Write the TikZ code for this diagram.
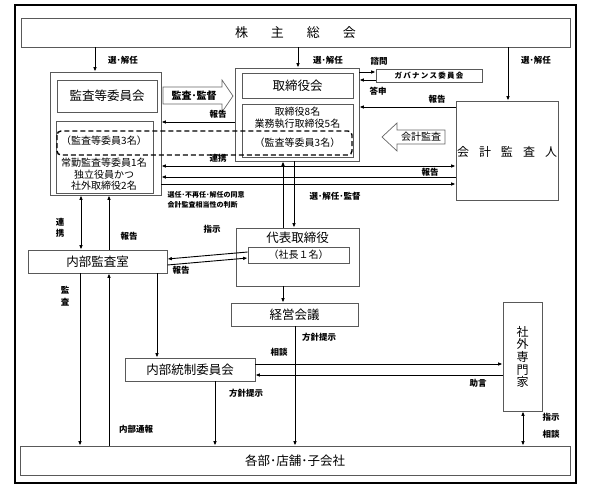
\documentclass[tikz,border=0pt]{standalone}
\usepackage{fontspec}
\setmainfont{Noto Sans CJK JP}
\usetikzlibrary{arrows.meta}
\tikzset{
  box/.style={draw=black!65, line width=0.7pt, inner sep=0pt, fill=white},
  bigtxt/.style={font=\fontsize{12.5}{14}\selectfont, inner sep=0pt},
  midtxt/.style={font=\fontsize{10}{11}\selectfont, inner sep=0pt},
  lbl/.style={font=\bfseries\fontsize{8.5}{9}\selectfont, inner sep=0.5pt},
  tiny/.style={font=\bfseries\fontsize{7}{8}\selectfont, inner sep=0.5pt},
  arr/.style={-{Latex[length=4.5pt,width=3.6pt]}, line width=0.9pt},
  darr/.style={{Latex[length=4.5pt,width=3.6pt]}-{Latex[length=4.5pt,width=3.6pt]}, line width=0.9pt},
  ln/.style={line width=0.9pt},
  hollow/.style={draw=black!60, line width=0.7pt, fill=white}
}
\begin{document}
\begin{tikzpicture}[x=1pt,y=-1pt]
\useasboundingbox (0,0) rectangle (589,495);
% outer frame
\draw[line width=2pt] (15,5) rectangle (576,483);

% main boxes
\node[box, minimum width=549pt, minimum height=29pt] (kabu) at (295.5,32.5) {};
\node[bigtxt, font=\fontsize{13}{14}\selectfont] (kabuT) at (295.5,32.5) {株\hspace{23pt}主\hspace{23pt}総\hspace{23pt}会};

\node[box, minimum width=111pt, minimum height=123pt] (kgrp) at (105.5,133.5) {};
\node[box, minimum width=100pt, minimum height=32pt] (kiin) at (107,96) {};
\node[bigtxt] (kiinT) at (107,96) {監査等委員会};
\node[box, minimum width=97pt, minimum height=72pt] (kmem) at (104.5,157) {};
\node[midtxt] (km1) at (104,140.5) {（監査等委員3名）};
\node[midtxt] (km2) at (104,163) {常勤監査等委員1名};
\node[midtxt] (km3) at (104,174.5) {独立役員かつ};
\node[midtxt] (km4) at (104,185.5) {社外取締役2名};

\node[box, minimum width=124pt, minimum height=93pt] (tgrp) at (297,114.5) {};
\node[box, minimum width=111pt, minimum height=25pt] (tkai) at (297.5,85.5) {};
\node[bigtxt] (tkaiT) at (297.5,85.5) {取締役会};
\node[box, minimum width=111pt, minimum height=53pt] (tmem) at (297.5,130.5) {};
\node[midtxt] (tm1) at (297.5,112) {取締役8名};
\node[midtxt] (tm2) at (297.5,124) {業務執行取締役5名};
\node[midtxt] (tm3) at (297.5,143) {（監査等委員3名）};

% dashed group
\draw[line width=1.4pt, dash pattern=on 5pt off 3pt, rounded corners=4pt] (57,131) rectangle (352,155);

\node[box, minimum width=106pt, minimum height=13pt] (gov) at (429,75.5) {};
\node[tiny, font=\bfseries\fontsize{7.5}{8}\selectfont] (govT) at (429,75.5) {ガ\,バ\,ナ\,ン\,ス\,委\,員\,会};

\node[box, minimum width=102pt, minimum height=99pt] (kaikei) at (507,150.5) {};
\node[bigtxt, font=\fontsize{12}{13}\selectfont] (kaikeiT) at (507,152) {会\hspace{10pt}計\hspace{10pt}監\hspace{10pt}査\hspace{10pt}人};

\node[box, minimum width=123pt, minimum height=58pt] (daihyo) at (297.5,257) {};
\node[bigtxt] (daihyoT) at (297.5,237.5) {代表取締役};
\node[box, minimum width=101pt, minimum height=16pt] (shacho) at (298.5,255) {};
\node[midtxt] (shachoT) at (298.5,255) {（社長１名）};

\node[box, minimum width=139pt, minimum height=23pt] (naibu) at (97.5,261.5) {};
\node[bigtxt] (naibuT) at (97.5,261.5) {内部監査室};

\node[box, minimum width=127pt, minimum height=23pt] (keiei) at (294.5,314.5) {};
\node[bigtxt] (keieiT) at (294.5,314.5) {経営会議};

\node[box, minimum width=130pt, minimum height=23pt] (tosei) at (190,369.5) {};
\node[bigtxt] (toseiT) at (190,369.5) {内部統制委員会};

\node[box, minimum width=39pt, minimum height=109pt] (senmon) at (522.5,356.5) {};
\node[bigtxt, align=center, font=\fontsize{12}{12.6}\selectfont] (senmonT) at (522.5,357) {社\\外\\専\\門\\家};

\node[box, minimum width=550pt, minimum height=29pt] (kakubu) at (295,460.5) {};
\node[bigtxt] (kakubuT) at (295,460.5) {各部･店舗･子会社};

% hollow block arrows
\draw[hollow] (163,87) -- (222,87) -- (222,80) -- (233,96) -- (222,112) -- (222,104) -- (163,104) -- cycle;
\node[lbl, font=\bfseries\fontsize{10}{11}\selectfont] (kansaT) at (194,95.5) {監査･監督};
\draw[hollow] (445,130) -- (397,130) -- (397,123) -- (382,137) -- (397,151) -- (397,144) -- (445,144) -- cycle;
\node[midtxt] (kaikeiA) at (421,137) {会計監査};

% connectors
\draw[arr] (kabu.south -| 95,0) -- (kgrp.north -| 95,0);
\draw[arr] (kabu.south -| 298,0) -- (tgrp.north -| 298,0);
\draw[arr] (kabu.south -| 508,0) -- (kaikei.north -| 508,0);
\draw[arr] (tgrp.east |- 0,72) -- (gov.west |- 0,72);
\draw[arr] (gov.west |- 0,80) -- (tgrp.east |- 0,80);
\draw[arr] (kaikei.west |- 0,107) -- (tgrp.east |- 0,107);
\draw[arr] (tgrp.west |- 0,122) -- (kgrp.east |- 0,122);
\draw[darr] (kgrp.east |- 0,166) -- (kaikei.west |- 0,166);
\draw[arr] (kaikei.west |- 0,177) -- (kgrp.east |- 0,177);
\draw[arr] (kgrp.east |- 0,184) -- (kaikei.west |- 0,184);
\draw[arr] (tgrp.south -| 294,0) -- (daihyo.north -| 294,0);
\draw[arr] (daihyo.north -| 283,0) -- (tgrp.south -| 283,0);
\draw[darr] (kgrp.south -| 81,0) -- (naibu.north -| 81,0);
\draw[arr] (naibu.north -| 109,0) -- (kgrp.south -| 109,0);
\draw[arr] ([yshift=3pt]shacho.west) -- ([yshift=2.5pt]naibu.east);
\draw[arr] ([yshift=-3.5pt]naibu.east) -- ([yshift=-3pt]shacho.west);
\draw[arr] (daihyo.south -| 283,0) -- (keiei.north -| 283,0);
\draw[arr] (naibu.south -| 157,0) -- (tosei.north -| 157,0);
\draw[arr] (naibu.south -| 80,0) -- (kakubu.north -| 80,0);
\draw[arr] (kakubu.north -| 109,0) -- (naibu.south -| 109,0);
\draw[arr] (tosei.east |- 0,364) -- (senmon.west |- 0,364);
\draw[arr] (senmon.west |- 0,375) -- (tosei.east |- 0,375);
\draw[arr] (keiei.south -| 295,0) -- (kakubu.north -| 295,0);
\draw[arr] (tosei.south -| 215,0) -- (kakubu.north -| 215,0);
\draw[darr] (senmon.south -| 523,0) -- (kakubu.north -| 523,0);

% labels
\node[lbl] (l1) at (123,60) {選･解任};
\node[lbl] (l2) at (328,60) {選･解任};
\node[lbl] (l3) at (536,60) {選･解任};
\node[lbl] (l4) at (379,61) {諮問};
\node[lbl] (l5) at (378,91) {答申};
\node[lbl] (l6) at (218,114) {報告};
\node[lbl] (l7) at (437,99) {報告};
\node[lbl] (l8) at (218,158) {連携};
\node[lbl] (l9) at (430,172) {報告};
\node[tiny, anchor=west] (l10) at (167,195) {選任･不再任･解任の同意};
\node[tiny, anchor=west] (l11) at (167,205) {会計監査相当性の判断};
\node[lbl] (l12) at (335,196) {選･解任･監督};
\node[lbl] (l13) at (212,229) {指示};
\node[lbl, align=center, font=\bfseries\fontsize{8.5}{10.5}\selectfont] (l14) at (60,228) {連\\携};
\node[lbl] (l15) at (129,236) {報告};
\node[lbl] (l16) at (181,270) {報告};
\node[lbl, align=center, font=\bfseries\fontsize{8.5}{11.5}\selectfont] (l17) at (65,296) {監\\査};
\node[lbl] (l18) at (136,429) {内部通報};
\node[lbl] (l19) at (319,337) {方針提示};
\node[lbl] (l20) at (279,352) {相談};
\node[lbl] (l21) at (246,393) {方針提示};
\node[lbl] (l22) at (478,383) {助言};
\node[lbl] (l23) at (551,417) {指示};
\node[lbl] (l24) at (551,434) {相談};
\end{tikzpicture}
\end{document}
